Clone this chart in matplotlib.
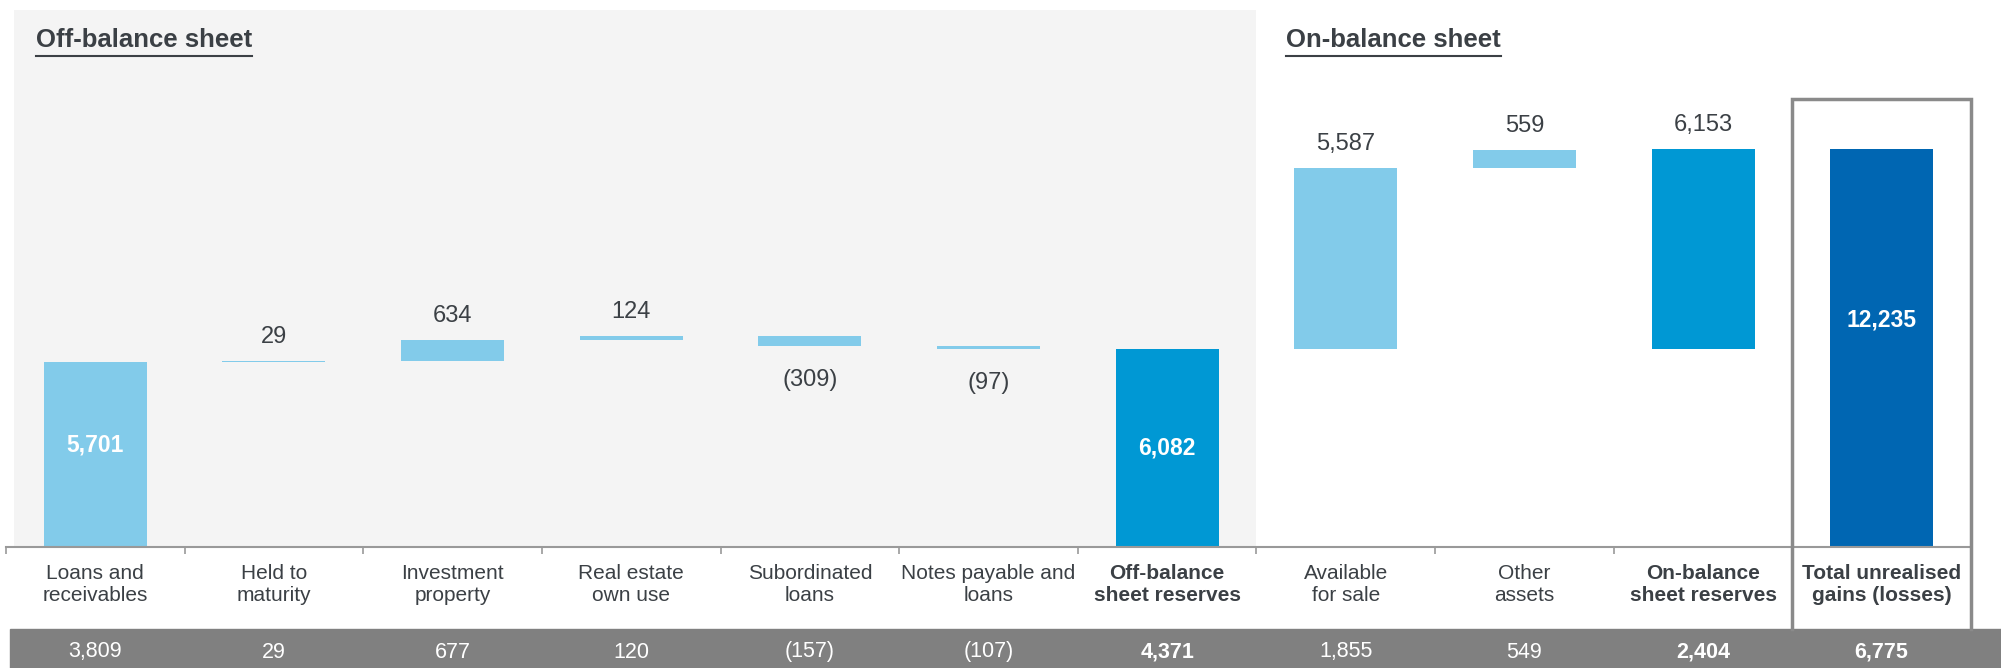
import numpy as np
import matplotlib
matplotlib.use('Agg')
import matplotlib.pyplot as plt
from matplotlib.patches import Rectangle
from matplotlib.lines import Line2D
from matplotlib.transforms import blended_transform_factory

plt.rcParams['font.family'] = ['Liberation Sans', 'DejaVu Sans']

# Waterfall data (EUR m)
categories = [
    'Loans and\nreceivables', 'Held to\nmaturity', 'Investment\nproperty',
    'Real estate\nown use', 'Subordinated\nloans', 'Notes payable and\nloans',
    'Off-balance\nsheet reserves', 'Available\nfor sale', 'Other\nassets',
    'On-balance\nsheet reserves', 'Total unrealised\ngains (losses)',
]
values = [5701, 29, 634, 124, -309, -97, 6082, 5587, 559, 6153, 12235]
# 'abs' = bar from zero, 'step' = floating change, 'sub' = subtotal of the section
kinds = ['abs', 'step', 'step', 'step', 'step', 'step', 'abs', 'step', 'step', 'sub', 'abs']
bold_labels = [6, 9, 10]
# bottom row figures
row_values = [3809, 29, 677, 120, -157, -107, 4371, 1855, 549, 2404, 6775]

LIGHT = '#82cbea'
MID = '#0098d4'
DARK = '#0066b2'
TEXT = '#3b4045'
W, H = 2001, 668


def fmt(v):
    return f'({abs(v):,})' if v < 0 else f'{v:,}'


fig = plt.figure(figsize=(W / 100, H / 100), dpi=100)
ax = fig.add_axes([6 / W, 121 / H, 1965 / W, 537 / H])
ax.set_xlim(-0.5, 10.5)
ax.set_ylim(0, 537 / 0.0325)
ax.patch.set_visible(False)

# grey background for off-balance section
ax.axvspan(-0.455, 6.5, color='#f4f4f4', zorder=0, lw=0)

bar_colors = [LIGHT] * 6 + [MID, LIGHT, LIGHT, MID, DARK]
inside_frac = {0: 0.55, 6: 0.5, 10: 0.57}

run = 0
section_start = 0
for i, (v, kind) in enumerate(zip(values, kinds)):
    if kind == 'abs':
        bottom, height = 0, v
        run = v
        section_start = v
    elif kind == 'step':
        bottom = run if v >= 0 else run + v
        height = abs(v)
        run += v
    else:
        bottom, height = section_start, v
    ax.bar(i, height, bottom=bottom, width=0.577, color=bar_colors[i], zorder=2, lw=0)

    if kind == 'abs':
        ax.text(i, v * inside_frac[i], fmt(v), ha='center', va='center',
                color='white', fontsize=16.5, fontweight='bold', zorder=3)
    elif v >= 0:
        ax.annotate(fmt(v), (i, bottom + height), xytext=(0, 17.3),
                    textcoords='offset points', ha='center', va='center',
                    color=TEXT, fontsize=17)
    else:
        ax.annotate(fmt(v), (i, bottom), xytext=(0, -24.5),
                    textcoords='offset points', ha='center', va='center',
                    color=TEXT, fontsize=17)

# axis styling
for s in ['top', 'left', 'right']:
    ax.spines[s].set_visible(False)
ax.spines['bottom'].set_color('#999999')
ax.spines['bottom'].set_linewidth(1.5)
ax.set_xticks(np.arange(-0.5, 11, 1))
ax.tick_params(axis='x', direction='out', length=5, width=1.2, color='#999999',
               labelbottom=False)
ax.set_yticks([])

mixed = blended_transform_factory(ax.transData, fig.transFigure)

# category labels
for i, c in enumerate(categories):
    ax.text(i, (H - 584.5) / H, c, transform=mixed, ha='center', va='center',
            fontsize=15, color=TEXT, linespacing=1.2,
            fontweight='bold' if i in bold_labels else 'normal')

# bottom band with values
fig.patches.append(Rectangle((10 / W, 0), 1, 39 / H, transform=fig.transFigure,
                             color='#808080', zorder=-1))
for i, v in enumerate(row_values):
    ax.text(i, 16 / H, fmt(v), transform=mixed, ha='center', va='center',
            fontsize=15.5, color='white', zorder=6,
            fontweight='bold' if i in bold_labels else 'normal')

# open frame around the total column (sides end at the band)
y_lo, y_hi = 39 / H, (H - 99) / H
ax.add_line(Line2D([9.5, 9.5, 10.5, 10.5], [y_lo, y_hi, y_hi, y_lo], transform=mixed,
                   color='#8a8a8a', lw=2.5, clip_on=False, zorder=4,
                   solid_joinstyle='miter'))

# section titles with underline
titles = []
for x, t in [(36, 'Off-balance sheet'), (1286, 'On-balance sheet')]:
    titles.append(fig.text(x / W, (H - 47) / H, t, ha='left', va='baseline',
                           fontsize=18.5, fontweight='bold', color=TEXT))
fig.canvas.draw()
for t in titles:
    bb = t.get_window_extent()
    fig.add_artist(Line2D([bb.x0 / W, bb.x1 / W], [(H - 56) / H] * 2,
                          transform=fig.transFigure, color=TEXT, lw=1.5))

fig.savefig('out.png', dpi=100)
